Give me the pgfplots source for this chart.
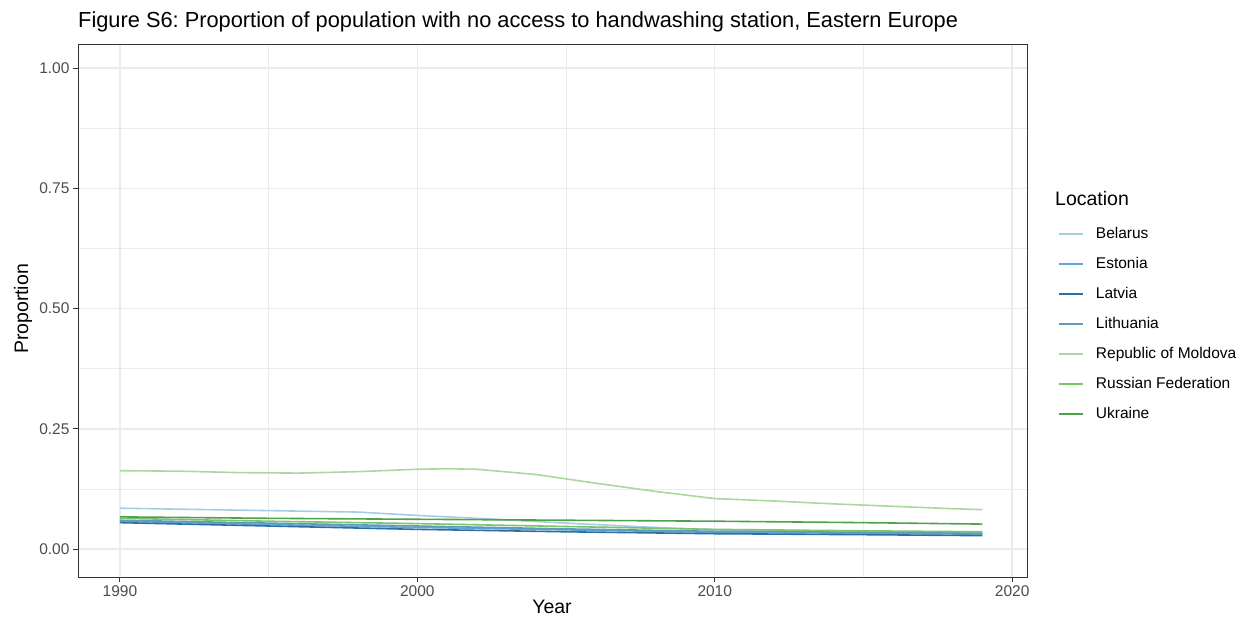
\documentclass[border=0pt]{standalone}
\usepackage{pgfplots}
\pgfplotsset{compat=1.18}
\usepackage{fontspec}
\setmainfont{Liberation Sans}
\frenchspacing
\definecolor{cBel}{HTML}{A6CDE2}
\definecolor{cEst}{HTML}{62A6CF}
\definecolor{cLat}{HTML}{2A6FA6}
\definecolor{cLit}{HTML}{5E9CB8}
\definecolor{cMol}{HTML}{A9D99C}
\definecolor{cRus}{HTML}{7CC36E}
\definecolor{cUkr}{HTML}{4EA24A}
\definecolor{gridc}{HTML}{EBEBEB}
\begin{document}
\begin{tikzpicture}[x=1pt,y=1pt]
\useasboundingbox (0,0) rectangle (1238,621);
\begin{axis}[
  at={(78pt,44pt)}, anchor=south west,
  scale only axis, width=949pt, height=532pt,
  xmin=1988.59, xmax=2020.5, ymin=-0.058, ymax=1.048,
  xtick={1990,2000,2010,2020}, minor xtick={1995,2005,2015},
  ytick={0,0.25,0.5,0.75,1}, minor ytick={0.125,0.375,0.625,0.875},
  yticklabels={0.00,0.25,0.50,0.75,1.00},
  xticklabel style={/pgf/number format/1000 sep={}, inner sep=3pt},
  /pgf/number format/assume math mode=true,
  tick label style={font=\fontsize{15.5}{18}\selectfont, text=black!70},
  grid=both,
  major grid style={gridc, line width=1.4pt},
  minor grid style={gridc, line width=0.7pt},
  tick align=outside, major tick length=5pt, minor tick length=0pt,
  tick style={black!80, line width=1pt},
  axis line style={black!80, line width=1pt},
  xtick pos=bottom, ytick pos=left,
  legend style={at={(1.0327,0.6598)}, anchor=north west, draw=none, fill=none,
     inner sep=0pt, font=\fontsize{15.5}{18}\selectfont, row sep=15pt, column sep=12pt,
     nodes={inner sep=0pt, text height=12pt, text depth=3pt}},
  legend cell align=left,
  legend image code/.code={\draw[#1, line width=1.7pt] (0pt,0pt) -- (24pt,0pt);},
  every axis plot/.append style={line width=1.6pt},
  clip=false,
]
\addplot[cBel] coordinates {(1990,0.085)(1993,0.082)(1995,0.080)(1998,0.077)(2000,0.070)(2002,0.064)(2005,0.054)(2008,0.045)(2010,0.040)(2015,0.036)(2019,0.034)};
\addlegendentry{Belarus}
\addplot[cEst] coordinates {(1990,0.058)(1995,0.051)(2000,0.045)(2005,0.040)(2010,0.035)(2015,0.033)(2019,0.031)};
\addlegendentry{Estonia}
\addplot[cLat] coordinates {(1990,0.055)(1995,0.048)(2000,0.041)(2005,0.036)(2010,0.032)(2015,0.030)(2019,0.028)};
\addlegendentry{Latvia}
\addplot[cLit] coordinates {(1990,0.060)(1995,0.054)(2000,0.048)(2005,0.042)(2010,0.037)(2015,0.035)(2019,0.033)};
\addlegendentry{Lithuania}
\addplot[cMol] coordinates {(1990,0.163)(1992,0.162)(1994,0.159)(1996,0.158)(1998,0.161)(2000,0.166)(2001,0.167)(2002,0.166)(2004,0.155)(2005,0.146)(2006,0.137)(2008,0.120)(2010,0.105)(2012,0.100)(2014,0.094)(2016,0.089)(2018,0.084)(2019,0.082)};
\addlegendentry{Republic of Moldova}
\addplot[cRus] coordinates {(1990,0.064)(1995,0.058)(2000,0.053)(2005,0.047)(2010,0.041)(2015,0.038)(2019,0.036)};
\addlegendentry{Russian Federation}
\addplot[cUkr] coordinates {(1990,0.067)(1995,0.064)(2000,0.062)(2005,0.060)(2010,0.058)(2015,0.055)(2019,0.052)};
\addlegendentry{Ukraine}
\end{axis}
\node[anchor=base west, inner sep=0pt, font=\fontsize{21.8}{24}\selectfont] at (78,593) {Figure S6: Proportion of population with no access to handwashing station, Eastern Europe};
\node[anchor=base west, inner sep=0pt, font=\fontsize{19.5}{22}\selectfont] at (1055,415) {Location};
\node[anchor=base, inner sep=0pt, font=\fontsize{19.5}{22}\selectfont] at (552,8) {Year};
\node[anchor=base, rotate=90, inner sep=0pt, font=\fontsize{19.5}{22}\selectfont] at (28,312) {Proportion};
\end{tikzpicture}
\end{document}
